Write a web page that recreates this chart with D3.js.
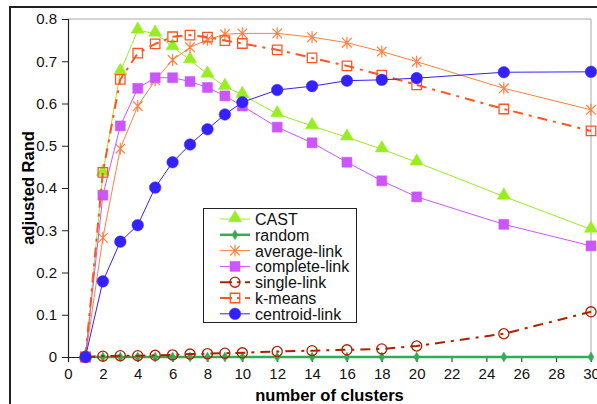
<!DOCTYPE html>
<html>
<head>
<meta charset="utf-8">
<script src="https://cdn.jsdelivr.net/npm/d3@7"></script>
<style>
  html, body { margin: 0; padding: 0; background: #fff; }
  svg { display: block; font-family: "Liberation Sans", Arial, sans-serif; }
</style>
</head>
<body>
<svg id="chart" width="597" height="404"></svg>
<script>
// number of clusters on the x axis
const clusters = [1, 2, 3, 4, 5, 6, 7, 8, 9, 10, 12, 14, 16, 18, 20, 25, 30];

// adjusted Rand index per method
const castValues      = [0, 0.436, 0.675, 0.773, 0.766, 0.734, 0.703, 0.669, 0.640, 0.621, 0.575, 0.547, 0.520, 0.492, 0.461, 0.380, 0.302];
const randomValues    = [0, 0, 0, 0, 0, 0, 0, 0, 0, 0, 0, 0, 0, 0, 0, 0, 0];
const averageValues   = [0, 0.282, 0.493, 0.594, 0.655, 0.703, 0.733, 0.751, 0.764, 0.766, 0.766, 0.757, 0.744, 0.723, 0.699, 0.636, 0.585];
const completeValues  = [0, 0.383, 0.547, 0.636, 0.661, 0.661, 0.652, 0.638, 0.618, 0.594, 0.544, 0.507, 0.461, 0.417, 0.379, 0.314, 0.263];
const singleValues    = [0, 0.002, 0.003, 0.003, 0.004, 0.005, 0.007, 0.008, 0.009, 0.010, 0.013, 0.015, 0.017, 0.019, 0.026, 0.055, 0.107];
const kmeansValues    = [0, 0.437, 0.657, 0.719, 0.741, 0.758, 0.762, 0.757, 0.749, 0.742, 0.727, 0.708, 0.689, 0.667, 0.644, 0.587, 0.535];
const centroidValues  = [0, 0.179, 0.273, 0.312, 0.401, 0.461, 0.503, 0.539, 0.574, 0.603, 0.632, 0.641, 0.654, 0.656, 0.660, 0.674, 0.675];

const seriesNames = ["CAST", "random", "average-link", "complete-link", "single-link", "k-means", "centroid-link"];

const xTicks = [0, 2, 4, 6, 8, 10, 12, 14, 16, 18, 20, 22, 24, 26, 28, 30];
const yTicks = [0, 0.1, 0.2, 0.3, 0.4, 0.5, 0.6, 0.7, 0.8];

// drawing styles for each method
const styles = [
  { values: castValues,     color: "#99ee22", width: 1,   dash: null,          marker: "triangle", fill: true },
  { values: randomValues,   color: "#33aa55", width: 2.5, dash: null,          marker: "diamond",  fill: true },
  { values: averageValues,  color: "#ff8040", width: 1,   dash: null,          marker: "asterisk", fill: false },
  { values: completeValues, color: "#cc55ff", width: 1,   dash: null,          marker: "square",   fill: true },
  { values: singleValues,   color: "#aa2200", width: 2,   dash: "10,6,3,6",    marker: "circle",   fill: false },
  { values: kmeansValues,   color: "#ff5522", width: 2,   dash: "10,6,3,6",    marker: "square",   fill: false },
  { values: centroidValues, color: "#3322ff", width: 1,   dash: null,          marker: "circle",   fill: true }
];

const svg = d3.select("#chart");
const W = 597, H = 404;
const margin = { left: 68, top: 19, right: 6, bottom: 47 };
const x = d3.scaleLinear().domain([0, 30]).range([margin.left, W - margin.right]);
const y = d3.scaleLinear().domain([0, 0.8]).range([H - margin.bottom, margin.top]);

// outer frame (top and left edges)
svg.append("path")
  .attr("d", `M10,${H} L10,7 L${W},7`)
  .attr("fill", "none").attr("stroke", "#222").attr("stroke-width", 2);

// plot-area border (top and right, light grey)
svg.append("path")
  .attr("d", `M${x(0)},${y(0.8)} L${x(30)},${y(0.8)} L${x(30)},${y(0)}`)
  .attr("fill", "none").attr("stroke", "#aaa").attr("stroke-width", 1);

// axes
const xAxis = d3.axisBottom(x).tickValues(xTicks).tickSize(5).tickPadding(6).tickFormat(d3.format("d"));
const yAxis = d3.axisLeft(y).tickValues(yTicks).tickSize(6).tickPadding(5).tickFormat(d => d === 0 ? "0" : d3.format(".1f")(d));

const gx = svg.append("g").attr("transform", `translate(0,${y(0)})`).call(xAxis);
const gy = svg.append("g").attr("transform", `translate(${x(0)},0)`).call(yAxis);
[gx, gy].forEach(g => {
  g.select(".domain").attr("stroke", "#222").attr("stroke-width", 1.2);
  g.selectAll(".tick line").attr("stroke", "#222");
  g.selectAll(".tick text").attr("font-size", 15).attr("fill", "#111")
    .attr("font-family", "'Liberation Sans', Arial, sans-serif");
});

// axis titles
svg.append("text")
  .attr("x", (x(0) + x(30)) / 2).attr("y", 401)
  .attr("text-anchor", "middle").attr("font-weight", "bold").attr("font-size", 16.5)
  .text("number of clusters");
svg.append("text")
  .attr("transform", `translate(34,${(y(0) + y(0.8)) / 2}) rotate(-90)`)
  .attr("text-anchor", "middle").attr("font-weight", "bold").attr("font-size", 16.5)
  .text("adjusted Rand");

// marker drawing
function drawMarker(g, s, cx, cy) {
  const sym = {
    triangle: d3.symbol(d3.symbolTriangle, 75),
    diamond: d3.symbol(d3.symbolDiamond, 28),
    square: d3.symbol(d3.symbolSquare, s.fill ? 100 : 90),
    circle: d3.symbol(d3.symbolCircle, s.fill ? 105 : 80)
  };
  if (s.marker === "asterisk") {
    const r = 6;
    const a = r * 0.8;
    g.append("path")
      .attr("d", `M${cx - a},${cy - a} L${cx + a},${cy + a} M${cx - a},${cy + a} L${cx + a},${cy - a} M${cx},${cy - r} L${cx},${cy + r}`)
      .attr("stroke", s.color).attr("stroke-width", 1.2).attr("fill", "none");
    return;
  }
  let yOff = s.marker === "triangle" ? -1 : 0;
  g.append("path")
    .attr("transform", `translate(${cx},${cy + yOff})`)
    .attr("d", sym[s.marker]())
    .attr("fill", s.fill ? s.color : "none")
    .attr("stroke", s.color)
    .attr("stroke-width", s.fill ? 0.5 : 1.3);
}

const line = d3.line().x((d, i) => x(clusters[i])).y(d => y(d));

styles.forEach(s => {
  const g = svg.append("g");
  g.append("path")
    .datum(s.values)
    .attr("d", line)
    .attr("fill", "none")
    .attr("stroke", s.color)
    .attr("stroke-width", s.width)
    .attr("stroke-dasharray", s.dash);
  s.values.forEach((v, i) => drawMarker(g, s, x(clusters[i]), y(v)));
});

// legend
const lg = svg.append("g");
lg.append("rect")
  .attr("x", 203.5).attr("y", 208.5).attr("width", 153).attr("height", 114)
  .attr("fill", "#fff").attr("stroke", "#222").attr("stroke-width", 1);
seriesNames.forEach((name, i) => {
  const s = styles[i];
  const ly = 219 + i * 15.8;
  lg.append("line")
    .attr("x1", 220).attr("x2", 250).attr("y1", ly).attr("y2", ly)
    .attr("stroke", s.color).attr("stroke-width", s.width)
    .attr("stroke-dasharray", s.dash ? "12,5,3,5" : null);
  drawMarker(lg, s, 235, ly);
  lg.append("text")
    .attr("x", 255).attr("y", ly + 6)
    .attr("font-size", 16).attr("fill", "#111")
    .text(name);
});
</script>
</body>
</html>
